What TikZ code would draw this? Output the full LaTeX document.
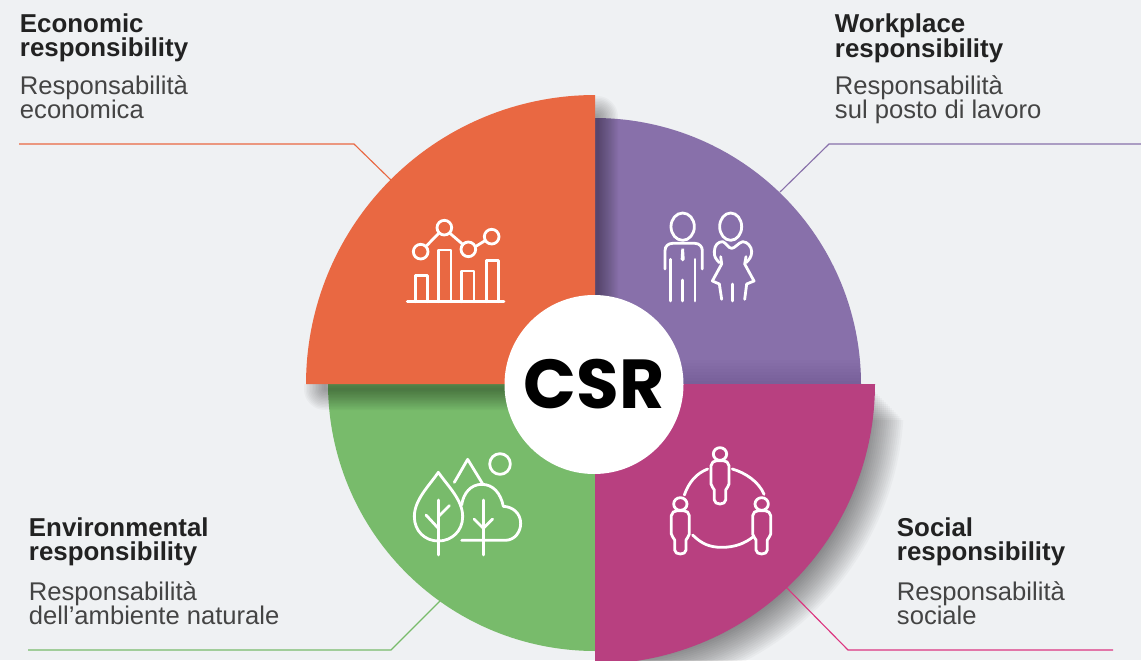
\documentclass[tikz,border=0pt]{standalone}
\usepackage{fontspec}
\setmainfont{Liberation Sans}
\newfontfamily\hubfont{Poppins}
\definecolor{bgc}{HTML}{EFF1F3}
\definecolor{orangec}{HTML}{E96842}
\definecolor{purplec}{HTML}{8870AA}
\definecolor{magentac}{HTML}{B84080}
\definecolor{greenc}{HTML}{78BB6B}
\definecolor{inkc}{HTML}{222222}
\definecolor{subc}{HTML}{444444}
\definecolor{leadm}{HTML}{DC3580}
\newcommand{\sector}[3]{(595,384) -- plot[domain=#1:#2,samples=70] ({595+#3*cos(\x)},{384+#3*sin(\x)}) -- cycle}
\tikzset{
  leader/.style={line width=0.85pt},
  title/.style={anchor=north west,inner sep=0pt,align=left,text=inkc,font=\fontsize{19.4}{18}\selectfont\bfseries},
  subtitle/.style={anchor=north west,inner sep=0pt,align=left,text=subc,font=\fontsize{19.2}{18}\selectfont},
  icon/.style={draw=white,line width=2.1pt,line cap=round,line join=round,fill=none},
}
\begin{document}
\begin{tikzpicture}[x=0.75pt,y=-0.75pt]
\useasboundingbox (0,0) rectangle (1141,660);
\clip (0,0) rectangle (1141,660);
\fill[bgc] (0,0) rectangle (1141,660);
% lower sectors
\fill[purplec] \sector{270}{360}{266};
\fill[greenc] \sector{90}{180}{267};
% shade at the foot of the purple sector
\begin{scope}
  \clip \sector{270}{360}{266};
  \foreach \k in {1,...,8}{
    \fill[black,opacity=0.012] (595,{384-3*\k}) rectangle (870,384);
  }
\end{scope}
% shadow thrown by the orange sector, only below and to the right of it
\begin{scope}
  \clip (595,0) -- (1141,0) -- (1141,660) -- (0,660) -- (0,384) -- (595,384) -- cycle;
  \foreach \w in {3,6,...,42}{
    \draw[black,opacity=0.026,line width=\w*0.75pt,line join=round,shift={(2,5)}] \sector{180}{270}{272};
  }
\end{scope}
% shadow thrown by the magenta sector
\foreach \k in {1,...,18}{
  \begin{scope}
    \pgfmathsetmacro{\R}{258+2*\k}
    \pgfmathsetmacro{\T}{384+2.0*\k}
    \clip (595,\T) rectangle (1141,660);
    \fill[black,opacity=0.028] (595,\T) -- plot[domain=-25:105,samples=90] ({610+\R*cos(\x)},{400+\R*sin(\x)}) -- cycle;
  \end{scope}
}
% leader ends
\coordinate (eA) at (19,144); \coordinate (eB) at (354,144); \coordinate (eC) at (392,181);
\coordinate (wA) at (1141,144); \coordinate (wB) at (829,144); \coordinate (wC) at (780,192);
\coordinate (nA) at (28,650); \coordinate (nB) at (391,650); \coordinate (nC) at (441,600);
\coordinate (sA) at (1113,650); \coordinate (sB) at (848,650); \coordinate (sC) at (786,587);
\draw[leader,orangec] (eA) -- (eB) -- (eC);
\draw[leader,purplec] (wA) -- (wB) -- (wC);
\draw[leader,greenc] (nA) -- (nB) -- (nC);
\draw[leader,leadm] (sA) -- (sB) -- (sC);
% upper sectors
\fill[orangec] \sector{180}{270}{289};
\fill[magentac] \sector{0}{90}{280};
% hub
\node[circle,fill=white,inner sep=0pt,minimum size=179*0.75pt,font=\hubfont\bfseries\fontsize{52}{52}\selectfont,text=black] (hub) at (594,384.5) {CSR};
% economic icon
\begin{scope}[shift={(390,200)},x=0.25pt,y=-0.25pt]
  \draw[icon] (92,155) circle[radius=22];
  \draw[icon] (163,83) circle[radius=22];
  \draw[icon] (235,148) circle[radius=22];
  \draw[icon] (305,110) circle[radius=22];
  \draw[icon] (110,137) -- (146,100);
  \draw[icon] (180,100) -- (217,132);
  \draw[icon] (256,140) -- (285,122);
  \draw[icon] (52,305) -- (342,305);
  \draw[icon] (76,305) -- (76,226) -- (112,226) -- (112,305);
  \draw[icon] (145,305) -- (145,150) -- (183,150) -- (183,305);
  \draw[icon] (215,305) -- (215,213) -- (252,213) -- (252,305);
  \draw[icon] (289,305) -- (289,181) -- (326,181) -- (326,305);
\end{scope}
% workplace icon
\begin{scope}[shift={(650,200)},x=0.25pt,y=-0.25pt]
  \draw[icon] (98,80) ellipse[x radius=35,y radius=41];
  \draw[icon] (45,207) -- (45,152) .. controls (45,138) and (55,130) .. (68,130) -- (135,130) .. controls (148,130) and (157,140) .. (157,152) -- (157,207);
  \draw[icon] (62,178) -- (62,303);
  \draw[icon] (135,178) -- (135,303);
  \draw[icon] (98,240) -- (98,303);
  \fill[white] (94,146) -- (102,146) -- (104,178) -- (98,184) -- (92,178) -- cycle;
  \draw[icon] (242,80) ellipse[x radius=33,y radius=41];
  \draw[icon] (208,188) .. controls (198,178) and (192,170) .. (193,155) .. controls (193,135) and (205,125) .. (218,125) .. controls (228,128) and (235,145) .. (245,145) .. controls (255,145) and (265,128) .. (278,125) .. controls (292,125) and (305,140) .. (305,155) .. controls (305,170) and (298,178) .. (288,188);
  \draw[icon] (212,170) -- (215,192) -- (187,243) -- (208,252) -- (215,298);
  \draw[icon] (288,170) -- (284,192) -- (312,243) -- (290,252) -- (284,298);
  \draw[icon] (247,252) -- (247,303);
\end{scope}
% environmental icon
\begin{scope}[shift={(400,445)},x=0.25pt,y=-0.25pt]
  \draw[icon] (300,57) circle[radius=31];
  \draw[icon] (163,112) -- (203,43) -- (247,115);
  \draw[icon] (115,82) .. controls (85,125) and (43,165) .. (43,215) .. controls (43,258) and (75,288) .. (115,288) .. controls (155,288) and (188,258) .. (188,215) .. controls (188,165) and (145,125) .. (115,82) -- cycle;
  \draw[icon] (115,165) -- (115,330);
  \draw[icon] (78,210) -- (115,250);
  \draw[icon] (148,182) -- (115,215);
  \draw[icon] (185,286) -- (315,286) .. controls (345,286) and (362,260) .. (362,235) .. controls (362,205) and (338,185) .. (310,184) .. controls (302,145) and (280,118) .. (245,118) .. controls (212,118) and (190,145) .. (185,180);
  \draw[icon] (250,165) -- (250,330);
  \draw[icon] (222,222) -- (250,250) -- (278,222);
\end{scope}
% social icon
\begin{scope}[shift={(655,440)},x=0.25pt,y=-0.25pt]
  \tikzset{person/.pic={
    \draw[icon] (0,-30) ellipse[x radius=20,y radius=19];
    \draw[icon] (-27,60) -- (-27,5) .. controls (-27,-4) and (-18,-10) .. (-10,-10) -- (10,-10) .. controls (18,-10) and (27,-4) .. (27,5) -- (27,60) .. controls (27,70) and (18,70) .. (17,78) -- (17,108) .. controls (17,124) and (-17,124) .. (-17,108) -- (-17,78) .. controls (-18,70) and (-27,70) .. (-27,60) -- cycle;
  }}
  \pic at (195,72) {person};
  \pic at (76,222) {person};
  \pic at (320,222) {person};
  \draw[icon] (88,165) .. controls (102,125) and (125,100) .. (158,87);
  \draw[icon] (232,87) .. controls (270,98) and (312,125) .. (327,163);
  \draw[icon] (113,285) .. controls (140,312) and (165,322) .. (200,322) .. controls (240,322) and (270,310) .. (295,290);
\end{scope}
% labels
\node[title] (t1) at (19.7,13) {Economic\\responsibility};
\node[subtitle] (s1) at (19.7,75) {Responsabilità\\economica};
\node[title] (t2) at (834.7,13) {Workplace\\responsibility};
\node[subtitle] (s2) at (834.7,75) {Responsabilità\\sul posto di lavoro};
\node[title] (t3) at (28.7,517) {Environmental\\responsibility};
\node[subtitle] (s3) at (28.7,581) {Responsabilità\\dell’ambiente naturale};
\node[title] (t4) at (896.7,517) {Social\\responsibility};
\node[subtitle] (s4) at (896.7,581) {Responsabilità\\sociale};
\end{tikzpicture}
\end{document}
